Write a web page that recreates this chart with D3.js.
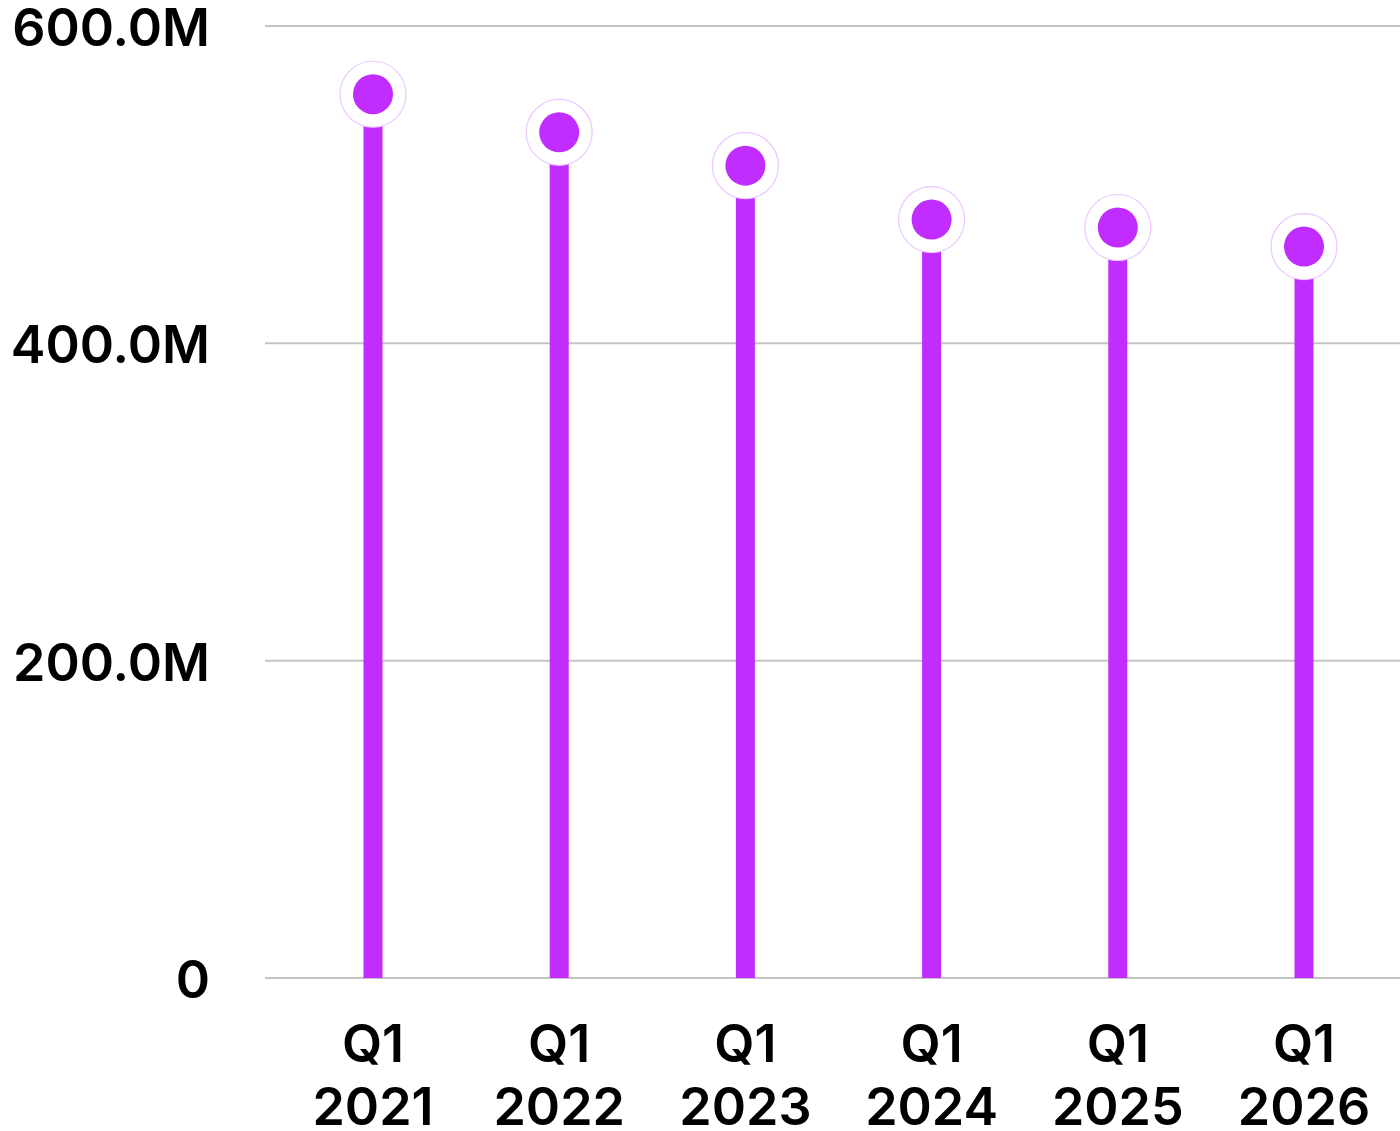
<!DOCTYPE html>
<html>
<head>
<meta charset="utf-8">
<script src="https://cdn.jsdelivr.net/npm/d3@7"></script>
<style>
  html, body { margin: 0; padding: 0; background: #fff; }
  svg { display: block; }
  text { font-family: Inter, "Noto Sans", sans-serif; font-weight: 600; fill: #000; }
</style>
</head>
<body>
<svg id="chart" width="1400" height="1131"></svg>
<script>
// Quarterly values (first quarter of each year)
const quarters = ["Q1", "Q1", "Q1", "Q1", "Q1", "Q1"];
const years = ["2021", "2022", "2023", "2024", "2025", "2026"];
const values = [557e6, 533e6, 512e6, 478e6, 473e6, 461e6];
const yTicks = [0, 200e6, 400e6, 600e6];

const W = 1400, H = 1131;
const plot = { left: 265, right: 1400, top: 26, bottom: 978 };
const color = "#c12cff";

const svg = d3.select("#chart");

const keys = years.map((y, i) => quarters[i] + " " + y);

const x = d3.scalePoint()
  .domain(keys)
  .range([373, 1304]);

const y = d3.scaleLinear()
  .domain([0, 600e6])
  .range([plot.bottom, plot.top]);

const fmt = v => v === 0 ? "0" : (v / 1e6).toFixed(1) + "M";

// Horizontal gridlines
svg.append("g")
  .selectAll("line")
  .data(yTicks)
  .join("line")
  .attr("x1", plot.left)
  .attr("x2", plot.right)
  .attr("y1", d => y(d))
  .attr("y2", d => y(d))
  .attr("stroke", "#c4c4c4")
  .attr("stroke-width", 2);

// Y axis labels
svg.append("g")
  .selectAll("text")
  .data(yTicks)
  .join("text")
  .attr("x", 210)
  .attr("y", d => y(d) + 20)
  .attr("text-anchor", "end")
  .attr("font-size", 52)
  .text(fmt);

// X axis labels (two lines)
const xl = svg.append("g")
  .selectAll("text")
  .data(keys)
  .join("text")
  .attr("x", d => x(d))
  .attr("y", 1062)
  .attr("text-anchor", "middle")
  .attr("font-size", 52);
xl.append("tspan").attr("x", d => x(d)).text((d, i) => quarters[i]);
xl.append("tspan").attr("x", d => x(d)).attr("dy", 63).text((d, i) => years[i]);

// Lollipop stems
svg.append("g")
  .selectAll("line")
  .data(values)
  .join("line")
  .attr("x1", (d, i) => x(keys[i]))
  .attr("x2", (d, i) => x(keys[i]))
  .attr("y1", y(0))
  .attr("y2", d => y(d))
  .attr("stroke", color)
  .attr("stroke-width", 19);

// Heads: white halo with a faint outline, then the solid dot
const heads = svg.append("g")
  .selectAll("g")
  .data(values)
  .join("g")
  .attr("transform", (d, i) => `translate(${x(keys[i])},${y(d)})`);

heads.append("circle")
  .attr("r", 33)
  .attr("fill", "#fff")
  .attr("stroke", "#ecc8ff")
  .attr("stroke-width", 1.2);

heads.append("circle")
  .attr("r", 20)
  .attr("fill", color);
</script>
</body>
</html>
